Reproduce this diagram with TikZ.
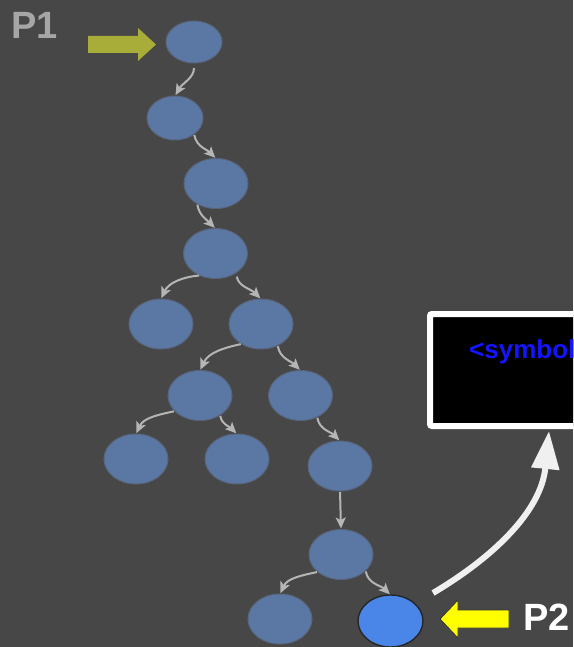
\documentclass[tikz,border=0pt]{standalone}
\usepackage{fontspec}
\setmainfont{Liberation Sans}
\usetikzlibrary{shapes.geometric,arrows.meta}
\definecolor{bg}{HTML}{474747}
\definecolor{nodeblue}{HTML}{5B78A5}
\definecolor{nodeedge}{HTML}{58647A}
\definecolor{hiblue}{HTML}{4A86E8}
\definecolor{garrow}{HTML}{B5B5B5}
\definecolor{oliveyel}{HTML}{A8AC38}
\definecolor{pyellow}{HTML}{FFFF00}
\definecolor{symblue}{HTML}{1414FF}
\definecolor{pgray}{HTML}{A6A6A6}
\definecolor{curvewhite}{HTML}{F0F0F0}
\tikzset{
  tn/.style={ellipse, fill=nodeblue, draw=nodeedge, line width=1pt, inner sep=0pt, outer sep=0pt,
             minimum width=64pt, minimum height=50pt},
  hn/.style={tn, fill=hiblue, draw=black!85, line width=1.4pt, minimum width=65pt, minimum height=52pt},
  garr/.style={draw=garrow, line width=2pt, -{Stealth[length=11pt,width=10pt,inset=2.5pt]},
               shorten <=1pt, shorten >=1pt},
  plabel/.style={anchor=base west, inner sep=0pt, font=\bfseries\fontsize{38}{40}\selectfont},
}
\begin{document}
\begin{tikzpicture}[x=1pt,y=1pt]
\useasboundingbox (0,0) rectangle (573,-647);
\clip (0,0) rectangle (573,-647);
\fill[bg] (0,0) rectangle (573,-647);

% tree nodes
\node[tn, minimum width=56pt, minimum height=42pt] (n1) at (194,-42) {};
\node[tn, minimum width=56pt, minimum height=44pt] (n2) at (175,-118) {};
\node[tn] (n3) at (216,-183.5) {};
\node[tn] (n4) at (215.5,-253.5) {};
\node[tn] (n5) at (161,-324) {};
\node[tn] (n6) at (261,-324) {};
\node[tn] (n7) at (200,-395.5) {};
\node[tn] (n8) at (300.5,-395.5) {};
\node[tn] (n9) at (136,-459) {};
\node[tn] (n10) at (237,-459) {};
\node[tn] (n11) at (340,-466) {};
\node[tn] (n12) at (341,-554.5) {};
\node[tn] (n13) at (280,-619) {};
\node[hn] (n14) at (390.5,-621) {};

% connectors
\draw[garr, shorten <=5pt] (n1.south) to[out=-90,in=60] (n2.north);
\draw[garr] (n2.-40) to[out=-80,in=135] (n3.north);
\draw[garr] (n3.-133) to[out=-80,in=135] (n4.north);
\draw[garr] (n4.-125) to[out=185,in=65] (n5.north);
\draw[garr, shorten <=4pt] (n4.-43) to[out=-80,in=135] (n6.north);
\draw[garr] (n6.-134) to[out=192,in=65] (n7.north);
\draw[garr] (n6.-52) to[out=-80,in=135] (n8.north);
\draw[garr] (n7.-148) to[out=192,in=65] (n9.north);
\draw[garr] (n7.-44) to[out=-80,in=135] (n10.north);
\draw[garr] (n8.-52) to[out=-80,in=135] (n11.north);
\draw[garr] (n11.south) -- (n12.north);
\draw[garr] (n12.-143) to[out=192,in=65] (n13.north);
\draw[garr] (n12.-33) to[out=-80,in=135] (n14.north);

% black box
\node[draw=white, line width=6pt, fill=black, rounded corners=2pt, inner sep=0pt, outer sep=0pt,
      minimum width=190pt, minimum height=112pt, anchor=north west] (box) at (430,-314) {};
\node[anchor=base west, inner sep=0pt, text=symblue, font=\bfseries\fontsize{26}{30}\selectfont] (sym) at (469,-358) {<symbol};

% white curved arrow
\coordinate (cs) at (433,-593);
\coordinate (ce) at (549,-431);
\draw[curvewhite, line width=6pt, -{Triangle[length=38pt,width=27pt]}] (cs) .. controls (492,-558) and (541,-512) .. (ce);

% P1 arrow and label
\fill[oliveyel] (88,-36) -- (138,-36) -- (138,-28) -- (156,-44.5) -- (138,-61) -- (138,-53) -- (88,-53) -- cycle;
\node[plabel, text=pgray] (p1) at (11,-39) {P1};

% P2 arrow and label
\filldraw[fill=pyellow, draw=black!80, line width=0.8pt] (509,-610) -- (458,-610) -- (458,-600) -- (440,-619) -- (458,-638) -- (458,-628) -- (509,-628) -- cycle;
\node[plabel, text=white] (p2) at (523,-630) {P2};
\end{tikzpicture}
\end{document}
